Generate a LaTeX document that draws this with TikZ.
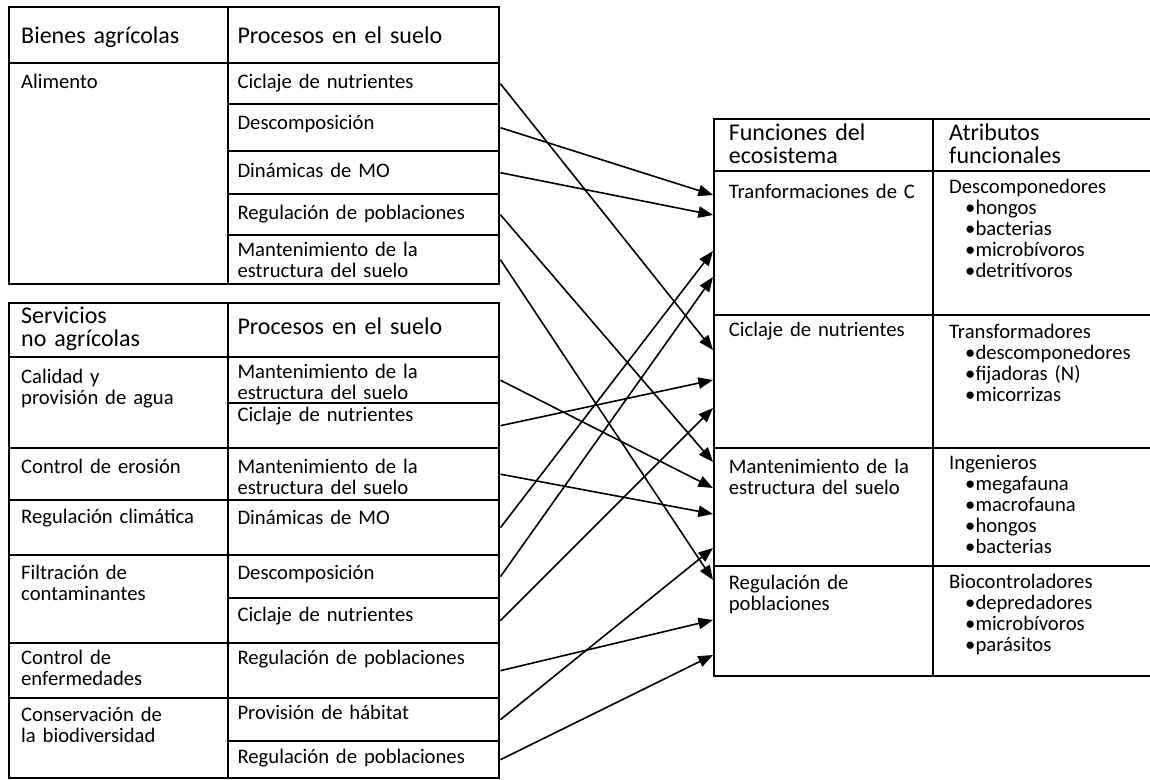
\documentclass[tikz,border=0pt]{standalone}
\usepackage{fontspec}
\setmainfont{Carlito}
\usetikzlibrary{arrows.meta,calc}

\begin{document}
\begin{tikzpicture}[
    x=0.75pt,
    y=-0.75pt,
    >={Triangle[length=11pt,width=8.5pt]},
    cellbox/.style 2 args={draw, line width=1.8pt, anchor=north west, align=left,
        inner ysep=0pt, text height={#2*0.75pt}, text depth={(#1-#2)*0.75pt},
        font=\fontsize{15.5}{15.75}\selectfont},
    head/.style={font=\fontsize{18}{17.5}\selectfont},
    gcol/.style 2 args={cellbox={#1}{#2}, inner xsep=9pt, text width=146.25pt},
    pcol/.style 2 args={cellbox={#1}{#2}, inner xsep=7pt, text width=189.25pt},
    fcol/.style 2 args={cellbox={#1}{#2}, inner xsep=11pt, text width=142.25pt},
    acol/.style 2 args={cellbox={#1}{#2}, inner xsep=12pt, text width=139.5pt},
    link/.style={->, line width=1.2pt}
]
\useasboundingbox (0,0) rectangle (1150,780);

% bienes agrícolas
\node[gcol={56}{36}, head] (hBien) at (8,6) {Bienes agrícolas};
\node[pcol={56}{36}, head] (hProcA) at (227,6) {Procesos en el suelo};
\node[gcol={221}{25}] (gAli) at (8,62) {Alimento};
\node[pcol={41}{25}] (pA1) at (227,62) {Ciclaje de nutrientes};
\node[pcol={47}{25}] (pA2) at (227,103) {Descomposición};
\node[pcol={43}{26}] (pA3) at (227,150) {Dinámicas de MO};
\node[pcol={41}{25}] (pA4) at (227,193) {Regulación de poblaciones};
\node[pcol={49}{21}] (pA5) at (227,234) {Mantenimiento de la\\estructura del suelo};

% servicios no agrícolas
\node[gcol={54}{20}, head] (hServ) at (8,302) {Servicios\\no agrícolas};
\node[pcol={54}{31}, head] (hProcB) at (227,302) {Procesos en el suelo};
\node[gcol={91}{26}] (sAgua) at (8,356) {Calidad y\\provisión de agua};
\node[pcol={46}{21}] (pB1) at (227,356) {Mantenimiento de la\\estructura del suelo};
\node[pcol={45}{18}] (pB2) at (227,402) {Ciclaje de nutrientes};
\node[gcol={52}{25}] (sEros) at (8,447) {Control de erosión};
\node[pcol={52}{25}] (pB3) at (227,447) {Mantenimiento de la\\estructura del suelo};
\node[gcol={55}{23}] (sClim) at (8,499) {Regulación climática};
\node[pcol={55}{24}] (pB4) at (227,499) {Dinámicas de MO};
\node[gcol={88}{24}] (sFilt) at (8,554) {Filtración de\\contaminantes};
\node[pcol={43}{24}] (pB5) at (227,554) {Descomposición};
\node[pcol={45}{23}] (pB6) at (227,597) {Ciclaje de nutrientes};
\node[gcol={55}{21}] (sEnf) at (8,642) {Control de\\enfermedades};
\node[pcol={55}{21}] (pB7) at (227,642) {Regulación de poblaciones};
\node[gcol={80}{23}] (sBio) at (8,697) {Conservación de\\la biodiversidad};
\node[pcol={43}{21}] (pB8) at (227,697) {Provisión de hábitat};
\node[pcol={37}{22}] (pB9) at (227,740) {Regulación de poblaciones};

% funciones del ecosistema
\node[fcol={52}{21}, head] (hFunc) at (713,118) {Funciones del\\ecosistema};
\node[acol={52}{21}, head] (hAtr) at (932,118) {Atributos\\funcionales};
\node[fcol={144}{27}] (fTC) at (713,170) {Tranformaciones de C};
\node[acol={144}{22}] (aTC) at (932,170) {Descomponedores\\
    \hspace*{12pt}\mbox{•hongos}\\\hspace*{12pt}\mbox{•bacterias}\\
    \hspace*{12pt}\mbox{•microbívoros}\\\hspace*{12pt}\mbox{•detritívoros}};
\node[fcol={133}{21}] (fCN) at (713,314) {Ciclaje de nutrientes};
\node[acol={133}{23}] (aCN) at (932,314) {Transformadores\\
    \hspace*{12pt}\mbox{•descomponedores}\\\hspace*{12pt}\mbox{•fijadoras (N)}\\
    \hspace*{12pt}\mbox{•micorrizas}};
\node[fcol={118}{25}] (fME) at (713,447) {Mantenimiento de la\\estructura del suelo};
\node[acol={118}{21}] (aME) at (932,447) {Ingenieros\\
    \hspace*{12pt}\mbox{•megafauna}\\\hspace*{12pt}\mbox{•macrofauna}\\
    \hspace*{12pt}\mbox{•hongos}\\\hspace*{12pt}\mbox{•bacterias}};
\node[fcol={110}{23}] (fRP) at (713,565) {Regulación de\\poblaciones};
\node[acol={110}{22}] (aRP) at (932,565) {Biocontroladores\\
    \hspace*{12pt}\mbox{•depredadores}\\\hspace*{12pt}\mbox{•microbívoros}\\
    \hspace*{12pt}\mbox{•parásitos}};

% enlaces desde los procesos
\draw[link] (pA1.east) -- ($(fCN.north west)+(0,36)$);
\draw[link] (pA2.east) -- ($(fTC.north west)+(0,25)$);
\draw[link] (pA3.east) -- ($(fTC.north west)+(0,45)$);
\draw[link] (pA4.east) -- ($(fME.north west)+(0,15)$);
\draw[link] (pA5.east) -- ($(fRP.north west)+(0,15)$);

\draw[link] (pB1.east) -- ($(fME.north west)+(0,41)$);
\draw[link] (pB2.east) -- ($(fCN.north west)+(0,66)$);
\draw[link] (pB3.east) -- ($(fME.north west)+(0,67)$);
\draw[link] (pB4.east) -- ($(fTC.north west)+(0,81)$);
\draw[link] (pB5.east) -- ($(fTC.north west)+(0,107)$);
\draw[link] (pB6.east) -- ($(fCN.north west)+(0,94)$);
\draw[link] (pB7.east) -- ($(fRP.north west)+(0,55)$);
\draw[link] (pB8.east) -- ($(fME.north west)+(0,101)$);
\draw[link] (pB9.east) -- ($(fRP.north west)+(0,90)$);

\end{tikzpicture}
\end{document}
